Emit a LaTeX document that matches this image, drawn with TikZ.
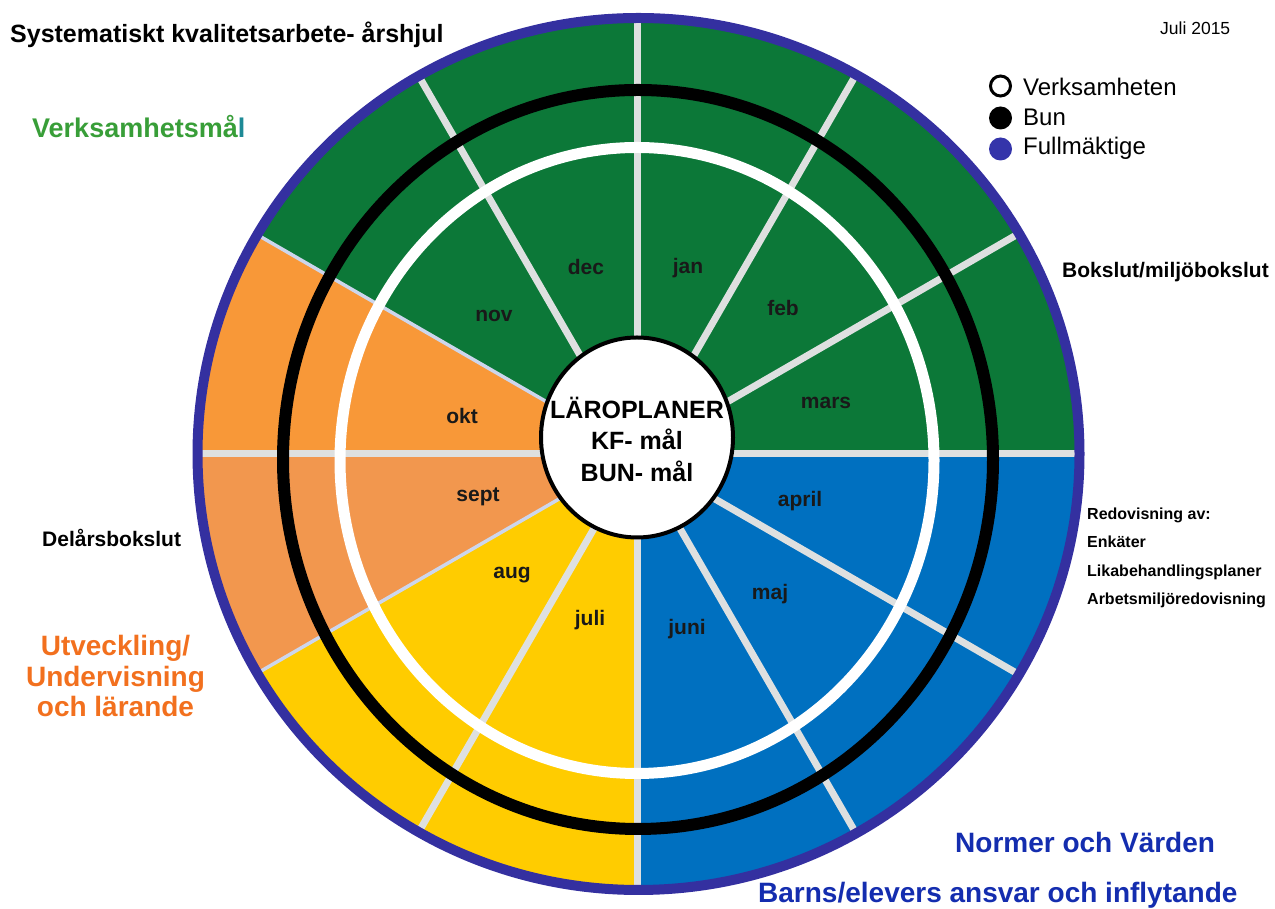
\documentclass[tikz,border=0pt]{standalone}
\usepackage{fontspec}
\setmainfont{Liberation Sans}

\definecolor{wgreen}{RGB}{12,120,56}
\definecolor{wokt}{RGB}{248,152,56}
\definecolor{wsept}{RGB}{242,151,78}
\definecolor{wyellow}{RGB}{255,204,0}
\definecolor{wblue}{RGB}{0,112,192}
\definecolor{wpurple}{RGB}{52,48,160}
\definecolor{divgrey}{RGB}{222,224,224}
\definecolor{seamgrey}{RGB}{205,214,236}
\definecolor{txtgreen}{RGB}{56,158,56}
\definecolor{txtteal}{RGB}{30,138,150}
\definecolor{txtorange}{RGB}{242,112,30}
\definecolor{txtblue}{RGB}{20,45,175}
\definecolor{dotblue}{RGB}{52,52,170}

\newcommand{\pxfont}[1]{\fontsize{#1}{#1}\selectfont}

\tikzset{
  month/.style={font=\pxfont{21}\bfseries, text=black!90, inner sep=0pt},
  label/.style={anchor=base west, inner sep=0pt},
  divider/.style={line width=7pt, draw=divgrey},
  seam/.style={line width=3.5pt, draw=seamgrey},
  dot/.style={circle, inner sep=0pt, minimum size=#1},
  dot/.default=20
}

\begin{document}
\begin{tikzpicture}[x=1pt,y=1pt]
  \useasboundingbox (0,0) rectangle (1275,909);
  \coordinate (hub) at (637,455);

  % sectors, cut to the wheel
  \begin{scope}
    \clip (638.5,455) ellipse [x radius=441, y radius=436];
    \foreach \a/\col in {0/wgreen,30/wgreen,60/wgreen,90/wgreen,120/wgreen,
                         150/wokt,180/wsept,210/wyellow,240/wyellow,
                         270/wblue,300/wblue,330/wblue}
      \fill[\col] (hub) -- +(\a:600) -- +(\a+30:600) -- cycle;
    \foreach \a in {0,30,60,90,120,180,240,270,300,330}
      \draw[divider] (hub) -- +(\a:600);
    \foreach \a in {150,210}
      \draw[seam] (hub) -- +(\a:600);
  \end{scope}

  % rings
  \draw[line width=11pt, white] (637,448.5) ellipse [x radius=297, y radius=313];
  \draw[line width=12pt, black] (638,449.5) ellipse [x radius=355, y radius=369.5];
  \draw[line width=10pt, wpurple] (638.5,455) ellipse [x radius=441, y radius=436];

  % middle
  \draw[line width=4pt, fill=white] (637,471.5) ellipse [x radius=96, y radius=100];
  \node[align=center, inner sep=0pt,
        font=\fontsize{25}{31.5}\selectfont\bfseries] (core) at (637,470)
        {LÄROPLANER\\KF- mål\\BUN- mål};

  % months
  \node[month] (mjan) at (688,641) {jan};
  \node[month] (mfeb) at (783,601) {feb};
  \node[month] (mmar) at (826,506) {mars};
  \node[month] (mapr) at (800,408) {april};
  \node[month] (mmaj) at (770,315) {maj};
  \node[month] (mjun) at (687,280) {juni};
  \node[month] (mjul) at (590,289) {juli};
  \node[month] (maug) at (512,334) {aug};
  \node[month] (msep) at (478,412) {sept};
  \node[month] (mokt) at (462,493) {okt};
  \node[month] (mnov) at (494,593) {nov};
  \node[month] (mdec) at (586,642) {dec};

  % headings
  \node[label, font=\pxfont{25}\bfseries] (title) at (10,866)
    {Systematiskt kvalitetsarbete- årshjul};
  \node[label, font=\pxfont{17.5}] (date) at (1160,874) {Juli 2015};
  \node[label, font=\pxfont{27}\bfseries, text=txtgreen] (goal) at (32,771)
    {Verksamhetsmå\textcolor{txtteal}{l}};

  % legend
  \node[dot=20, draw=black, line width=3pt, fill=white] (kverk) at (1000.5,823) {};
  \node[dot=23, fill=black] (kbun) at (1000.5,791) {};
  \node[dot=23, fill=dotblue] (kfull) at (1000.5,760) {};
  \node[label, font=\pxfont{24}] (lverk) at (1023,813) {Verksamheten};
  \node[label, font=\pxfont{24}] (lbun) at (1023,783) {Bun};
  \node[label, font=\pxfont{24}] (lfull) at (1023,754) {Fullmäktige};

  % side notes
  \node[label, font=\pxfont{21}\bfseries] (bok) at (1062,631) {Bokslut/miljöbokslut};
  \node[label, font=\pxfont{16}\bfseries] (redo) at (1087,389) {Redovisning av:};
  \node[label, font=\pxfont{16}\bfseries] (enk) at (1087,361) {Enkäter};
  \node[label, font=\pxfont{16}\bfseries] (lika) at (1087,332) {Likabehandlingsplaner};
  \node[label, font=\pxfont{16}\bfseries] (arb) at (1087,304) {Arbetsmiljöredovisning};
  \node[label, font=\pxfont{21}\bfseries] (delar) at (42,362) {Delårsbokslut};

  \node[align=center, inner sep=0pt, text=txtorange,
        font=\fontsize{28}{31}\selectfont\bfseries] (utv) at (115.5,233)
    {Utveckling/\\Undervisning\\och lärande};
  \node[label, font=\pxfont{28}\bfseries, text=txtblue] (norm) at (955,56)
    {Normer och Värden};
  \node[label, font=\pxfont{28}\bfseries, text=txtblue] (barn) at (758,6)
    {Barns/elevers ansvar och inflytande};
\end{tikzpicture}
\end{document}
